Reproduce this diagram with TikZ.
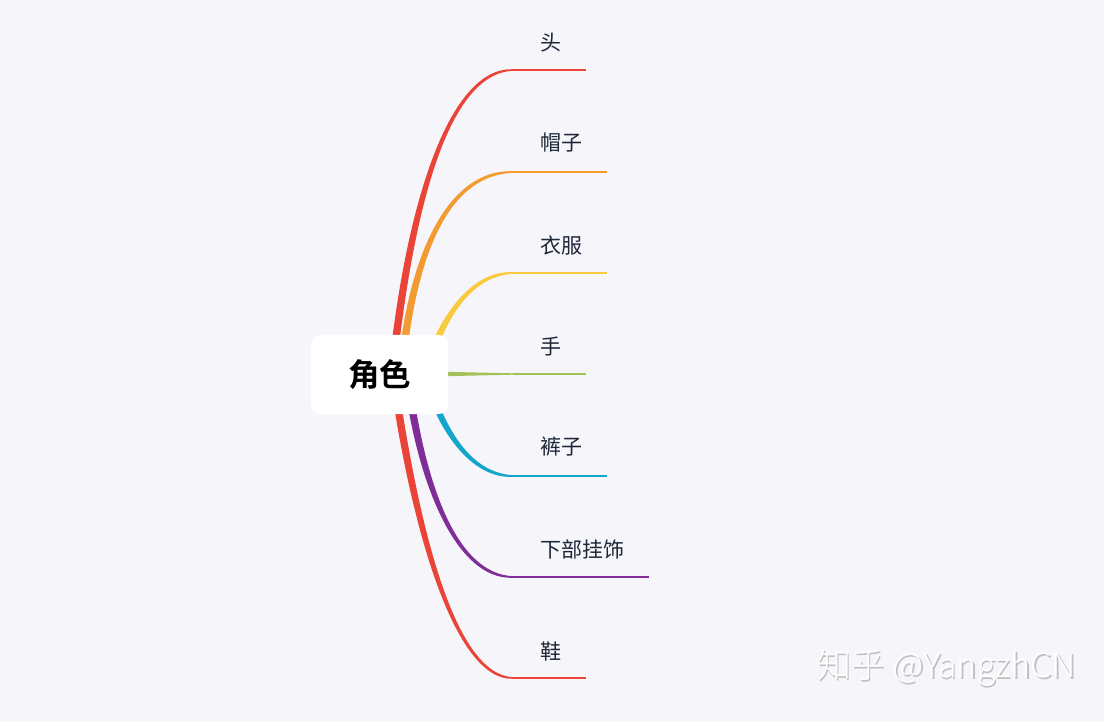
\documentclass[tikz,border=0pt]{standalone}
\usepackage{fontspec}
\setmainfont{Noto Sans CJK SC}
\newfontfamily\cjkbold{Noto Sans CJK SC Bold}
\newfontfamily\cjklight{Noto Sans CJK SC Light}
\definecolor{bg}{HTML}{F6F5FA}
\definecolor{cred}{HTML}{EA4438}
\definecolor{corange}{HTML}{F39A30}
\definecolor{cyellow}{HTML}{F9C93E}
\definecolor{cgreen}{HTML}{A2C156}
\definecolor{ccyan}{HTML}{14A5CC}
\definecolor{cpurple}{HTML}{7E2E96}
\definecolor{ctext}{HTML}{1E2738}
\newcommand\branchup[9]{%
  \fill[#1] ({#2-3.8},#3) .. controls ({#4-4},#5) and (#6,{#7-3.2}) .. (#8,{#9-0.8})
    -- (#8,{#9+0.8}) .. controls (#6,{#7+3.2}) and ({#4+4},#5) .. ({#2+3.8},#3) -- cycle;}
\newcommand\branchdown[9]{%
  \fill[#1] ({#2-3.8},#3) .. controls ({#4-4},#5) and (#6,{#7+3.2}) .. (#8,{#9+0.8})
    -- (#8,{#9-0.8}) .. controls (#6,{#7-3.2}) and ({#4+4},#5) .. ({#2+3.8},#3) -- cycle;}
\begin{document}
\begin{tikzpicture}[x=1pt,y=-1pt,
  lbl/.style={anchor=west,inner sep=0pt,text=ctext,font=\fontsize{21}{21}\selectfont},
  hline/.style={line width=2.5pt},
  centerbox/.style={fill=white,rounded corners=9pt,minimum width=137pt,minimum height=79pt,inner sep=0pt,font=\cjkbold\fontsize{31.5}{31.5}\selectfont}]
\fill[bg] (0,0) rectangle (1104,722);
\useasboundingbox (0,0) rectangle (1104,722);
% branch end points
\coordinate (e1) at (513,70);  \coordinate (f1) at (586,70);
\coordinate (e2) at (513,172); \coordinate (f2) at (607,172);
\coordinate (e3) at (513,273); \coordinate (f3) at (607,273);
\coordinate (e4) at (513,374); \coordinate (f4) at (586,374);
\coordinate (e5) at (513,476); \coordinate (f5) at (607,476);
\coordinate (e6) at (513,577); \coordinate (f6) at (649,577);
\coordinate (e7) at (513,678); \coordinate (f7) at (586,678);
% curves
\branchup{cred}{392}{374}{410}{200}{450}{70}{513}{70}
\branchup{corange}{401}{374}{412}{250}{450}{172}{513}{172}
\branchup{cyellow}{425}{374}{440}{320}{470}{273}{513}{273}
\fill[cgreen] (430,371.5) -- (513,373.3) -- (513,374.7) -- (430,376.5) -- cycle;
\branchdown{ccyan}{425}{374}{440}{428}{470}{476}{513}{476}
\branchdown{cpurple}{407}{374}{420}{480}{455}{577}{513}{577}
\branchdown{cred}{393}{374}{415}{530}{455}{678}{513}{678}
% horizontal lines
\draw[hline,cred] (e1) -- (f1);
\draw[hline,corange] (e2) -- (f2);
\draw[hline,cyellow] (e3) -- (f3);
\draw[hline,cgreen] (e4) -- (f4);
\draw[hline,ccyan] (e5) -- (f5);
\draw[hline,cpurple] (e6) -- (f6);
\draw[hline,cred] (e7) -- (f7);
% center
\node[centerbox] (c) at (379.5,374.5) {角色};
% labels
\node[lbl] (l1) at (540,43) {头};
\node[lbl] (l2) at (540,143) {帽子};
\node[lbl] (l3) at (540,245) {衣服};
\node[lbl] (l4) at (540,346) {手};
\node[lbl] (l5) at (540,447) {裤子};
\node[lbl] (l6) at (540,549) {下部挂饰};
\node[lbl] (l7) at (540,652) {鞋};
% watermark
\node[anchor=west,inner sep=0pt,text=black!25,font=\cjklight\fontsize{34}{34}\selectfont] (wms) at (818.5,669.5) {知乎 @YangzhCN};
\node[anchor=west,inner sep=0pt,text=white,font=\cjklight\fontsize{34}{34}\selectfont] (wm) at (817,668) {知乎 @YangzhCN};
\end{tikzpicture}
\end{document}
